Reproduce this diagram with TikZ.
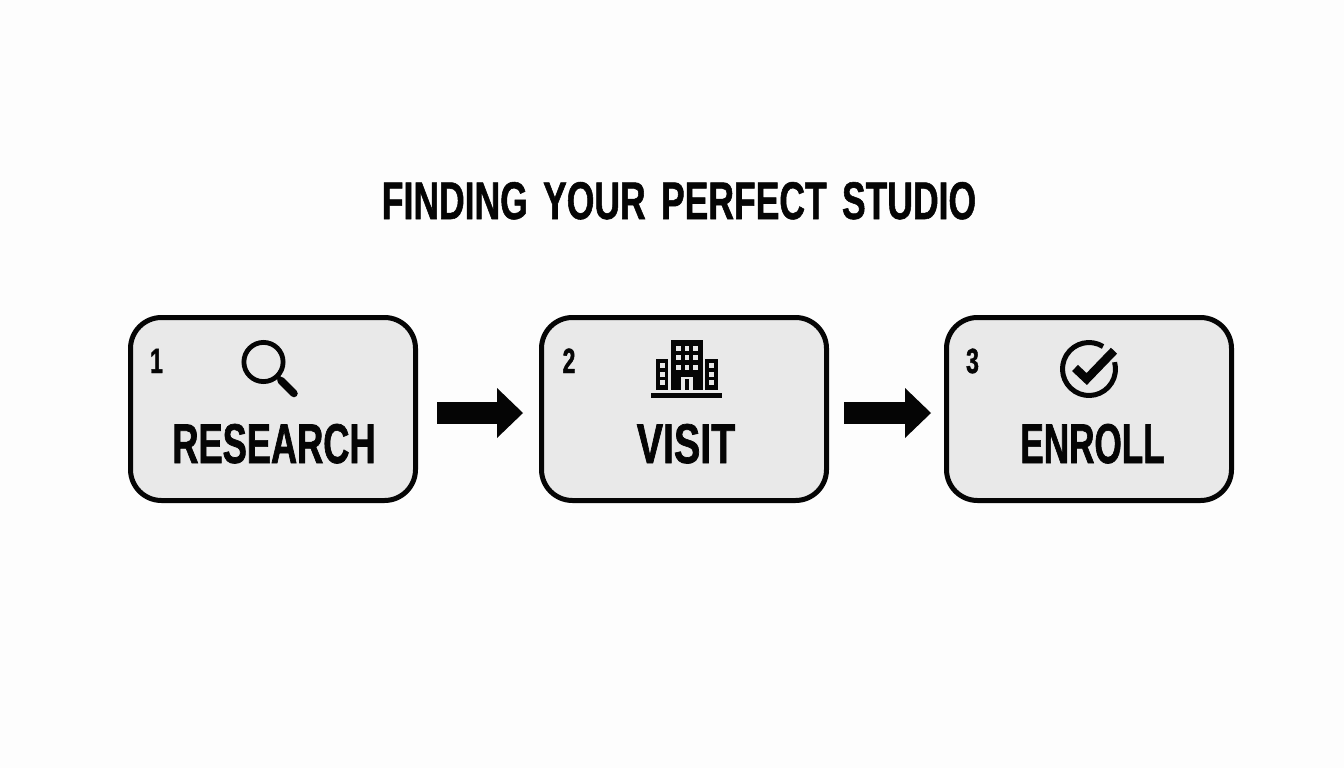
\documentclass[tikz,border=0pt]{standalone}
\usepackage{fontspec}
\usetikzlibrary{arrows.meta}
\newfontfamily\condfont[FakeStretch=0.66,FakeBold=1.2]{Liberation Sans Bold}
\newfontfamily\titlefont[FakeStretch=0.67,FakeBold=1.0,WordSpace=1.55]{Liberation Sans Bold}
\definecolor{ink}{HTML}{050505}
\definecolor{boxfill}{HTML}{E9E9E9}
\definecolor{paper}{HTML}{FDFDFD}
\tikzset{
  stepbox/.style={draw=ink,fill=boxfill,line width=5pt,rounded corners=31pt,minimum width=285pt,minimum height=183pt,inner sep=0pt,anchor=center},
  steplabel/.style={anchor=base,inner sep=0pt,text=ink,font=\condfont\fontsize{56}{56}\selectfont},
  stepnum/.style={anchor=base,inner sep=0pt,text=ink,font=\condfont\fontsize{35}{35}\selectfont},
  titletext/.style={anchor=base,inner sep=0pt,text=ink,font=\titlefont\fontsize{53}{53}\selectfont},
  flow/.style={draw=ink,line width=22pt,-{Triangle[length=26pt,width=50pt,line width=0pt]}},
  iconline/.style={draw=ink,line width=4.8pt}
}
\begin{document}
\begin{tikzpicture}[x=1pt,y=-1pt]
\useasboundingbox (0,0) rectangle (1344,768);
\fill[paper] (0,0) rectangle (1344,768);
\node[titletext] (title) at (679,219) {FINDING YOUR PERFECT STUDIO};
\node[stepbox] (box1) at (273,409) {};
\node[stepbox] (box2) at (684,409) {};
\node[stepbox] (box3) at (1089,409) {};
\node[steplabel] (lab1) at (274,463) {\scalebox{0.98}[1]{RESEARCH}};
\node[steplabel] (lab2) at (686,463) {\scalebox{1.065}[1]{VISIT}};
\node[steplabel] (lab3) at (1092.5,463) {\scalebox{0.95}[1]{ENROLL}};
\node[stepnum] (num1) at (156.5,373) {1};
\node[stepnum] (num2) at (569,373) {2};
\node[stepnum] (num3) at (972.5,373) {3};
\draw[flow,shorten <=19pt,shorten >=16pt] (box1.east |- 0,413) -- (box2.west |- 0,413);
\draw[flow,shorten <=15pt,shorten >=13pt] (box2.east |- 0,413) -- (box3.west |- 0,413);
% magnifier
\draw[iconline] (263.5,362) circle (19.6);
\draw[draw=ink,line width=4.5pt] (277,376) -- (283,382);
\draw[draw=ink,line width=7.5pt,line cap=round] (281,380.5) -- (294,393.5);
% building
\fill[ink] (650.7,392.7) rectangle (722,398.3);
\fill[ink] (671.3,340) rectangle (702.7,390);
\fill[ink] (656,359.3) rectangle (668.3,390);
\fill[ink] (705.3,359.3) rectangle (717.7,390);
\foreach \wx in {676,684.7,693}{\foreach \wy in {346,355.3,365}{
  \fill[boxfill] (\wx,\wy) rectangle +(4.6,4.8);}}
\foreach \wy in {363.3,371.7,380}{
  \fill[boxfill] (660,\wy) rectangle +(5,4.8);
  \fill[boxfill] (708.7,\wy) rectangle +(4.8,4.8);}
\fill[boxfill] (680.7,376.7) rectangle (693.3,390);
\fill[ink] (685.3,379) rectangle (689,390);
% check
\draw[draw=ink,line width=5pt] (1089,369) ++(-58:26.5) arc[start angle=-58,end angle=-375,radius=26.5];
\draw[draw=ink,line width=8.5pt] (1075,368) -- (1086.7,379) -- (1114,350.7);
\end{tikzpicture}
\end{document}
